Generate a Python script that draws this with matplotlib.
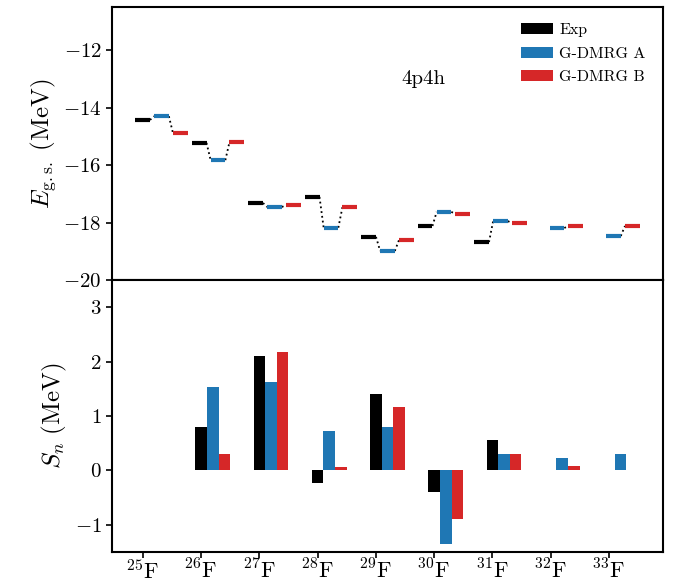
import numpy as np
import matplotlib
matplotlib.use('Agg')
import matplotlib.pyplot as plt
from matplotlib.patches import Patch

plt.rcParams['font.family'] = 'serif'
plt.rcParams['font.serif'] = ['cmr10']
plt.rcParams['mathtext.fontset'] = 'cm'
plt.rcParams['axes.formatter.use_mathtext'] = True
plt.rcParams['axes.unicode_minus'] = True

# isotopes
isotopes = ['25', '26', '27', '28', '29', '30', '31', '32', '33']
tick_labels = [r'$^{%s}$F' % a for a in isotopes]

# ground-state energies (MeV); None = no experimental value
e_exp = [-14.43, -15.23, -17.32, -17.11, -18.50, -18.12, -18.68, None, None]
e_a = [-14.30, -15.83, -17.46, -18.18, -18.99, -17.63, -17.95, -18.19, -18.47]
e_b = [-14.89, -15.20, -17.39, -17.46, -18.61, -17.70, -18.02, -18.12, -18.12]

# one-neutron separation energies (MeV)
sn_exp = [0.0, 0.79, 2.11, -0.23, 1.40, -0.39, 0.56, 0.0, 0.0]
sn_a = [0.0, 1.53, 1.62, 0.73, 0.79, -1.35, 0.31, 0.22, 0.31]
sn_b = [0.0, 0.31, 2.17, 0.07, 1.16, -0.90, 0.31, 0.09, 0.0]

colors = ['black', '#1f77b4', '#d62728']
labels = ['Exp', 'G-DMRG A', 'G-DMRG B']

W, H = 678, 584
fig = plt.figure(figsize=(W / 100, H / 100), dpi=100)
ax1 = fig.add_axes([112 / W, 1 - 280 / H, (663 - 112) / W, 273 / H])
ax2 = fig.add_axes([112 / W, 1 - 552 / H, (663 - 112) / W, 272 / H])

# --- top panel: energy levels ---
half = 0.13
offsets = [0.0, 1 / 3, 2 / 3]
x = np.arange(len(isotopes))
for i in x:
    pts = []
    for k, series in enumerate([e_exp, e_a, e_b]):
        val = series[i]
        if val is None:
            continue
        c = i + offsets[k]
        ax1.plot([c - half, c + half], [val, val], color=colors[k], lw=3,
                 solid_capstyle='butt', zorder=3)
        pts.append((c, val))
    for (c0, v0), (c1, v1) in zip(pts[:-1], pts[1:]):
        ax1.plot([c0 + half, c1 - half], [v0, v1], color='black', lw=1.3,
                 ls=':', zorder=2)

ax1.set_xlim(-0.543, 9.21)
ax1.set_ylim(-20, -10.5)
ax1.set_yticks([-20, -18, -16, -14, -12])
ax1.set_xticks(x)
ax1.set_xticklabels([])
ax1.set_ylabel(r'$E_{\mathrm{g.s.}}\ \mathrm{(MeV)}$', fontsize=18)
ax1.text(4.58, -13.18, '4p4h', fontsize=15)
handles = [Patch(facecolor=c, edgecolor='none') for c in colors]
ax1.legend(handles, labels, loc='upper right', frameon=False, fontsize=11.5,
           handlelength=2.0, handletextpad=0.4, labelspacing=0.6,
           bbox_to_anchor=(0.995, 0.995))

# --- bottom panel: separation energies ---
bw = 0.2
for k, series in enumerate([sn_exp, sn_a, sn_b]):
    ax2.bar(x + k * bw, series, width=bw, color=colors[k])
ax2.set_ylim(-1.5, 3.5)
ax2.set_yticks([-1, 0, 1, 2, 3])
ax2.set_xticks(x)
ax2.set_xticklabels(tick_labels)
ax2.set_ylabel(r'$S_n\ \mathrm{(MeV)}$', fontsize=18)

for ax in (ax1, ax2):
    for sp in ax.spines.values():
        sp.set_linewidth(1.5)
    ax.tick_params(direction='out', length=4, width=1.2, labelsize=15)
ax2.tick_params(axis='x', labelsize=16, pad=1)

fig.savefig('out.png', dpi=100)
